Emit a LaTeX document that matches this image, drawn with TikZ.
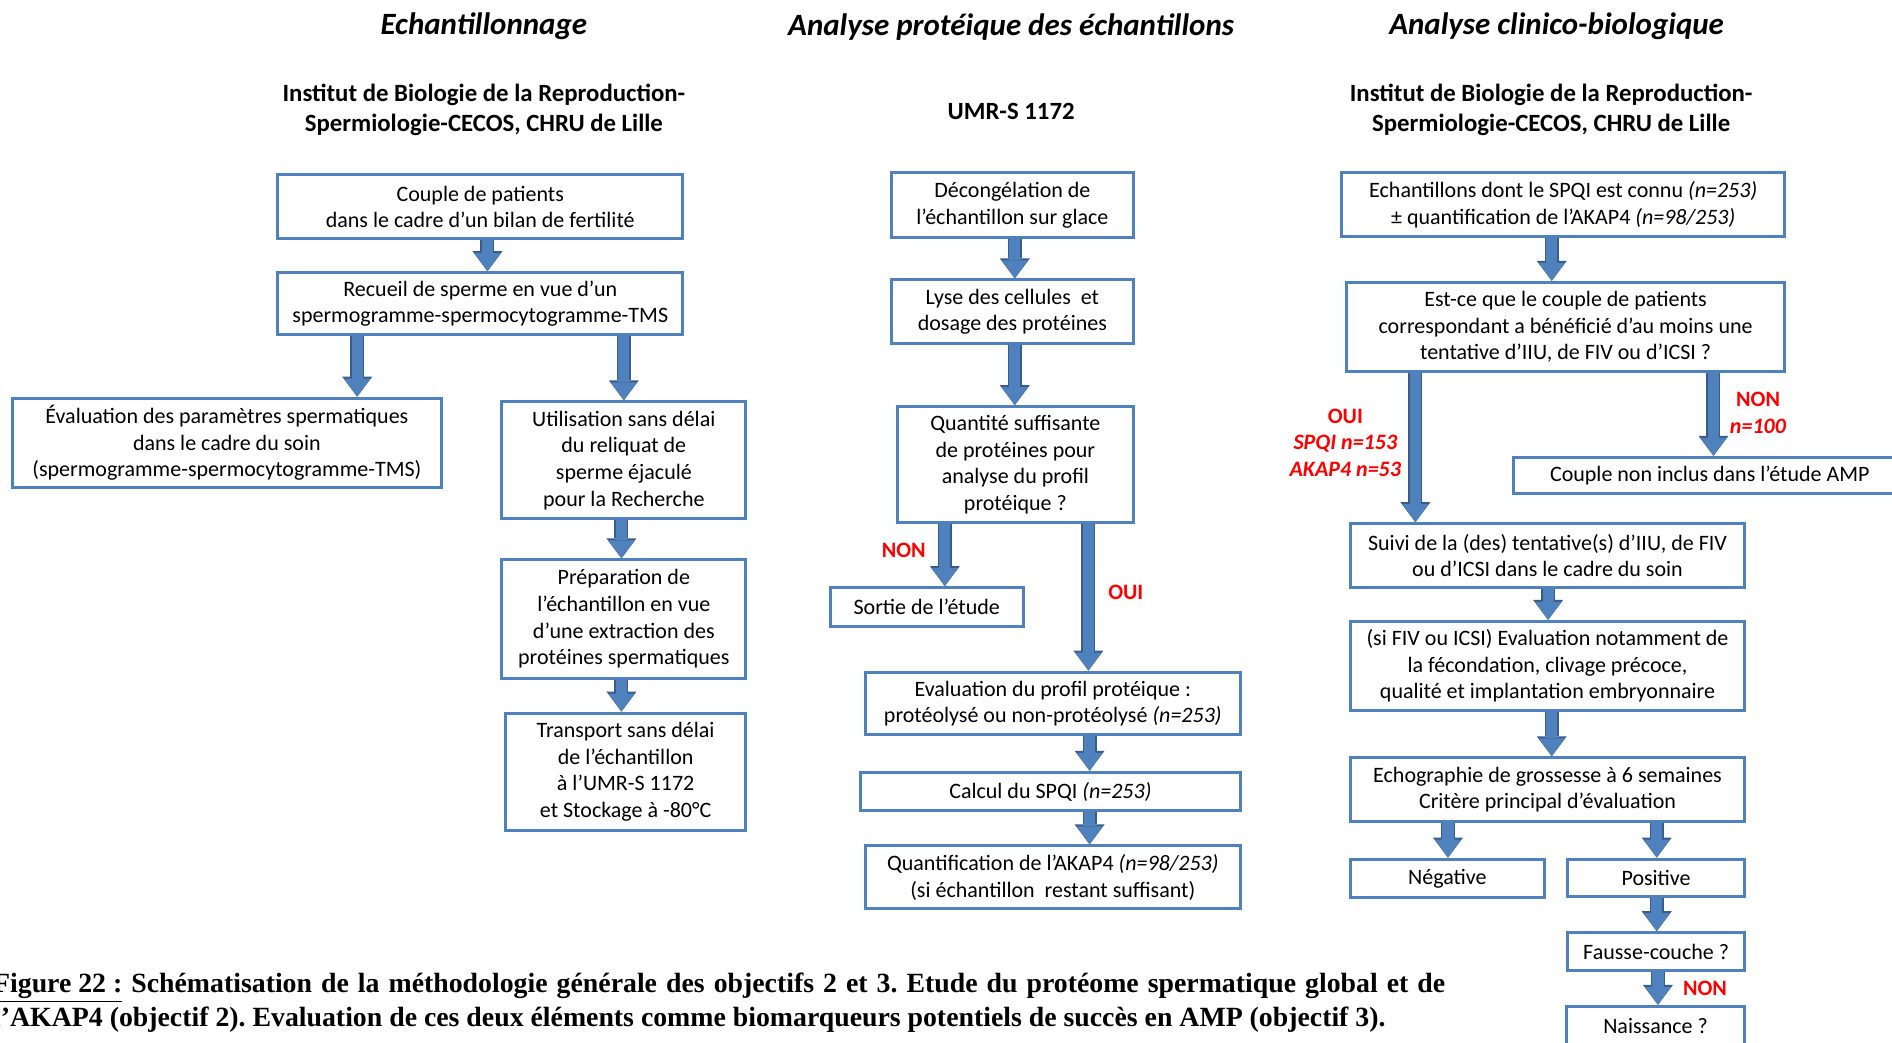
\documentclass[tikz,border=0pt]{standalone}
\usepackage{fontspec}
\setmainfont{Carlito}
\newfontfamily\capfont{Liberation Serif}
\usetikzlibrary{arrows.meta,calc}
\definecolor{bblue}{HTML}{4F81BD}
\definecolor{adark}{HTML}{385D8A}
\definecolor{lred}{HTML}{FF0000}
\begin{document}
\begin{tikzpicture}[x=0.6033pt,y=-0.6033pt,
 box/.style={draw=bblue, line width=1.5pt, fill=white, align=center, inner sep=0pt, font=\fontsize{11}{13.3}\selectfont},
 wh/.style 2 args={minimum width=#1*0.6033pt, minimum height=#2*0.6033pt},
 flow/.style={line width=5.6pt, draw=bblue, -{Triangle[width=13pt,length=9pt,line width=0pt]},
   preaction={draw=adark, line width=7pt, -{Triangle[width=15pt,length=10pt,line width=0pt]}}},
 ttl/.style={font=\fontsize{15.5}{18}\selectfont\bfseries\itshape},
 sub/.style={font=\fontsize{12.4}{15}\selectfont\bfseries, align=center},
 lab/.style={text=lred, font=\fontsize{11}{13.2}\selectfont\bfseries, align=center}
]
\useasboundingbox (0,0) rectangle (1568,864);
\clip (0,0) rectangle (1568,864);
\fill[white] (0,0) rectangle (1568,864);

% titles
\node[ttl] (t1) at (401,22) {Echantillonnage};
\node[ttl] (t2) at (838,22) {Analyse protéique des échantillons};
\node[ttl] (t3) at (1290,22) {Analyse clinico-biologique};
\node[sub] (s1) at (401,91) {Institut de Biologie de la Reproduction-\\Spermiologie-CECOS, CHRU de Lille};
\node[sub] (s2) at (838,92) {UMR-S 1172};
\node[sub] (s3) at (1285.5,91) {Institut de Biologie de la Reproduction-\\Spermiologie-CECOS, CHRU de Lille};

% column 1
\node[box, wh={336}{53}] (A) at (398,171.5) {Couple de patients\\dans le cadre d’un bilan de fertilité};
\node[box, wh={336}{51}] (B) at (398,251.5) {Recueil de sperme en vue d’un\\spermogramme-spermocytogramme-TMS};
\node[box, wh={356}{74}] (C) at (188,367) {Évaluation des paramètres spermatiques\\dans le cadre du soin\\(spermogramme-spermocytogramme-TMS)};
\node[box, wh={202}{97}] (D) at (517,381.5) {Utilisation sans délai\\du reliquat de\\sperme éjaculé\\pour la Recherche};
\node[box, wh={202}{98}] (E) at (517,513) {Préparation de\\l’échantillon en vue\\d’une extraction des\\protéines spermatiques};
\node[box, wh={199}{97}] (F) at (518.5,639.5) {Transport sans délai\\de l’échantillon\\à l’UMR-S 1172\\et Stockage à -80°C};

% column 2
\node[box, wh={200}{54}] (G) at (839,170) {Décongélation de\\l’échantillon sur glace};
\node[box, wh={200}{53}] (H) at (839,258.5) {Lyse des cellules\ \ et\\dosage des protéines};
\node[box, wh={195}{96}] (I) at (841.5,385) {Quantité suffisante\\de protéines pour\\analyse du profil\\protéique ?};
\node[box, wh={160}{32}] (J) at (768,503) {Sortie de l’étude};
\node[box, wh={311}{52}] (K) at (872.5,583) {Evaluation du profil protéique :\\protéolysé ou non-protéolysé \textit{(n=253)}};
\node[box, wh={315}{32}] (L) at (870.5,656) {Calcul du SPQI \textit{(n=253)}};
\node[box, wh={311}{52}] (M) at (872.5,727) {Quantification de l’AKAP4 \textit{(n=98/253)}\\(si échantillon\ \ restant suffisant)};

% column 3
\node[box, wh={367}{53}] (N) at (1295.5,169.5) {Echantillons dont le SPQI est connu \textit{(n=253)}\\± quantification de l’AKAP4 \textit{(n=98/253)}};
\node[box, wh={363}{74}] (O) at (1297.5,271) {Est-ce que le couple de patients\\correspondant a bénéficié d’au moins une\\tentative d’IIU, de FIV ou d’ICSI ?};
\node[box, wh={326}{30}] (P) at (1417,394) {Couple non inclus dans l’étude AMP};
\node[box, wh={327}{53}] (Q) at (1282.5,460.5) {Suivi de la (des) tentative(s) d’IIU, de FIV\\ou d’ICSI dans le cadre du soin};
\node[box, wh={327}{74}] (R) at (1282.5,552) {(si FIV ou ICSI) Evaluation notamment de\\la fécondation, clivage précoce,\\qualité et implantation embryonnaire};
\node[box, wh={327}{53}] (S) at (1282.5,654.5) {Echographie de grossesse à 6 semaines\\Critère principal d’évaluation};
\node[box, wh={161}{32}] (T) at (1199.5,728) {Négative};
\node[box, wh={147}{31}] (U) at (1372.5,727.5) {Positive};
\node[box, wh={147}{31}] (V) at (1372.5,788.5) {Fausse-couche ?};
\node[box, wh={148}{32}] (W) at (1372,850) {Naissance ?};

% arrows
\draw[flow] ($(A.south)+(6,0)$) -- ($(B.north)+(6,0)$);
\draw[flow] ($(B.south)+(-102,0)$) -- ($(C.north)+(108,0)$);
\draw[flow] ($(B.south)+(119,0)$) -- (D.north);
\draw[flow] ($(D.south)+(-2,0)$) -- ($(E.north)+(-2,0)$);
\draw[flow] ($(E.south)+(-2,0)$) -- ($(F.north)+(-3.5,0)$);
\draw[flow] ($(G.south)+(2,0)$) -- ($(H.north)+(2,0)$);
\draw[flow] ($(H.south)+(2,0)$) -- ($(I.north)+(-0.5,0)$);
\draw[flow] ($(I.south)+(-58.5,0)$) -- ($(J.north)+(15,0)$);
\draw[flow] ($(I.south)+(60.5,0)$) -- ($(K.north)+(29.5,0)$);
\draw[flow] ($(K.south)+(30.5,0)$) -- ($(L.north)+(32.5,0)$);
\draw[flow] ($(L.south)+(32.5,0)$) -- ($(M.north)+(30.5,0)$);
\draw[flow] ($(N.south)+(-9.5,0)$) -- ($(O.north)+(-11.5,0)$);
\draw[flow] ($(O.south)+(-124.5,0)$) -- ($(Q.north)+(-109.5,0)$);
\draw[flow] ($(O.south)+(122.5,0)$) -- ($(P.north)+(3,0)$);
\draw[flow] ($(Q.south)+(0.5,0)$) -- ($(R.north)+(0.5,0)$);
\draw[flow] ($(R.south)+(3.5,0)$) -- ($(S.north)+(3.5,0)$);
\draw[flow] ($(S.south)+(-82.5,0)$) -- ($(T.north)+(0.5,0)$);
\draw[flow] ($(S.south)+(90.5,0)$) -- ($(U.north)+(0.5,0)$);
\draw[flow] ($(U.south)+(0.5,0)$) -- ($(V.north)+(0.5,0)$);
\draw[flow] ($(V.south)+(1.5,0)$) -- ($(W.north)+(2,0)$);

% labels
\node[lab] (l1) at (749,456) {NON};
\node[lab] (l2) at (933,491) {OUI};
\node[lab] (l3) at (1115,367) {OUI\\\textit{SPQI n=153}\\\textit{AKAP4 n=53}};
\node[lab] (l4) at (1457,342) {NON\\\textit{n=100}};
\node[lab] (l5) at (1413,819) {NON};

% caption
\node[anchor=north west, inner sep=0pt, text width=726pt, align=justify,
      font=\capfont\bfseries\fontsize{13.9}{16.9}\selectfont\frenchspacing] (cap) at (-6,806)
 {\underline{Figure 22 :} Schématisation de la méthodologie générale des objectifs 2 et 3. Etude du protéome spermatique global et de\linebreak
  l’AKAP4 (objectif 2). Evaluation de ces deux éléments comme biomarqueurs potentiels de succès en AMP (objectif 3).};
\end{tikzpicture}
\end{document}
